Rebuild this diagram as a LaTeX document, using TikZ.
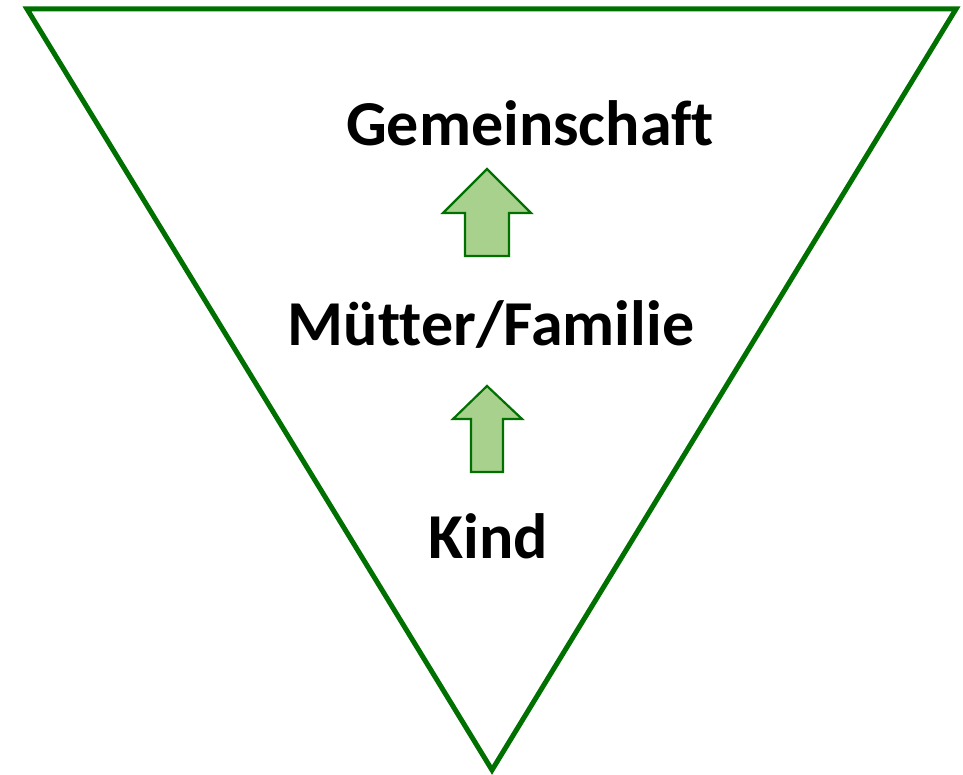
\documentclass[tikz,border=0pt]{standalone}
\usepackage{fontspec}
\setmainfont{Carlito}[Ligatures=NoCommon]
\definecolor{tgreen}{RGB}{0,112,0}
\definecolor{afill}{RGB}{169,209,142}
\tikzset{
  frame/.style={draw=tgreen, line width=5pt, line join=miter},
  uparrow/.style={draw=tgreen, fill=afill, line width=2.2pt, line join=miter},
  label/.style={anchor=base, font=\bfseries\fontsize{64}{76}\selectfont, inner sep=0pt}
}
\begin{document}
\begin{tikzpicture}[x=1pt,y=-1pt]
\useasboundingbox (0,0) rectangle (963,775);
\coordinate (tl) at (27,9);
\coordinate (tr) at (956,9);
\coordinate (bt) at (492,770);
\draw[frame] (tl) -- (tr) -- (bt) -- cycle;
\node[label] (g) at (530,146) {Gemeinschaft};
\node[label] (m) at (491,345) {Mütter/Familie};
\node[label] (k) at (488,558) {Kind};
\draw[uparrow] (487,169) -- (531,213) -- (509,213) -- (509,256) -- (465,256) -- (465,213) -- (443,213) -- cycle;
\draw[uparrow] (487,386) -- (522,419) -- (503,419) -- (503,472) -- (471,472) -- (471,419) -- (453,419) -- cycle;
\end{tikzpicture}
\end{document}
